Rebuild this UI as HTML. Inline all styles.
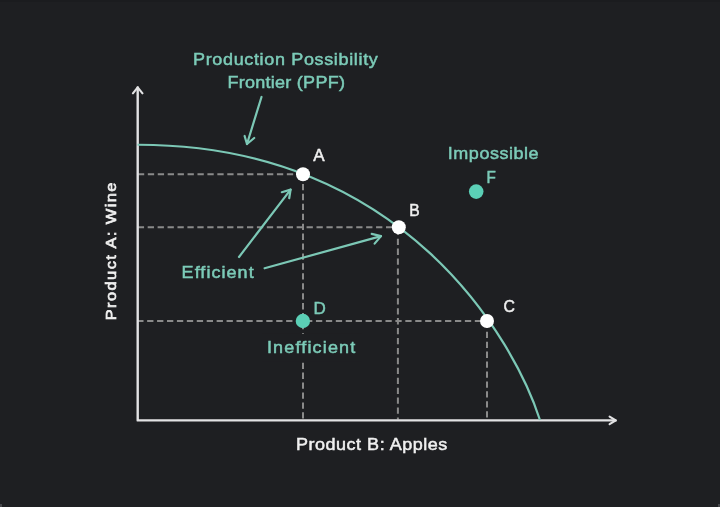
<!DOCTYPE html>
<html>
<head>
<meta charset="utf-8">
<style>
html,body{margin:0;padding:0;background:#1e1f22;}
body{width:720px;height:507px;overflow:hidden;}
svg{display:block;will-change:transform;}
text{font-family:"Liberation Sans",sans-serif;font-size:17px;}
.t{fill:#7ccbb8;stroke:#7ccbb8;stroke-width:.5px;}
.w{fill:#f0f0f0;stroke:#f0f0f0;stroke-width:.5px;}
</style>
</head>
<body>
<svg width="720" height="507" viewBox="0 0 720 507">
<rect width="720" height="507" fill="#1e1f22"/>
<rect width="720" height="2" fill="#1b1c1f"/>
<!-- dashed guide lines -->
<g stroke="#8a8a8a" stroke-width="2" stroke-dasharray="6.3 3.63" fill="none">
<path d="M137.9 174.3H303"/>
<path d="M137.75 227.35H398.8"/>
<path d="M137.2 321H487"/>
<path d="M303 174V419.5"/>
<path d="M397.9 228.75V419.5"/>
<path d="M487 321.8V419.5"/>
</g>
<rect x="262" y="333.8" width="100" height="27.7" fill="#1e1f22"/>
<!-- axes -->
<g stroke="#e2e2e4" stroke-width="2.4" fill="none" stroke-linecap="round" stroke-linejoin="round">
<path d="M137.7 87.5V420.4H615.5"/>
<path d="M132.9 93.3L137.7 87.3L142.5 93.3" stroke-width="2.1"/>
<path d="M609.6 416.6L615.8 420.4L609.6 424.2" stroke-width="2.1"/>
</g>
<!-- PPF curve -->
<path d="M137.5 144.76C405.61 144.39 514.96 342.38 539.95 420" stroke="#7cc8b6" stroke-width="2.2" fill="none"/>
<!-- teal arrows -->
<g stroke="#7cc8b6" stroke-width="2.2" fill="none" stroke-linecap="round" stroke-linejoin="round">
<path d="M261.5 97L247 144"/>
<path d="M244.6 136L247 144L254.2 138"/>
<path d="M239 257L290.6 189.6"/>
<path d="M281.8 192.2L290.6 189.6L289.2 198.2"/>
<path d="M264.6 268.3L381 236.1"/>
<path d="M371.7 233.9L381 236.1L374.6 243.6"/>
</g>
<!-- points -->
<circle cx="303" cy="174.3" r="7" fill="#ffffff"/>
<circle cx="398.8" cy="227.3" r="7" fill="#ffffff"/>
<circle cx="487" cy="321" r="7" fill="#ffffff"/>
<circle cx="302.9" cy="321" r="7.2" fill="#5bcfb6"/>
<circle cx="476.2" cy="191.6" r="7.3" fill="#5bcfb6"/>
<!-- labels -->
<text class="t" transform="translate(193.0 65.4) scale(1.06 1)" textLength="174.34" lengthAdjust="spacing">Production Possibility</text>
<text class="t" transform="translate(227.6 87.8) scale(1.06 1)" textLength="110.66" lengthAdjust="spacing">Frontier (PPF)</text>
<text class="t" transform="translate(447.8 159.1) scale(1.06 1)" textLength="85.66" lengthAdjust="spacing">Impossible</text>
<text class="t" transform="translate(181.6 277.5) scale(1.06 1)" textLength="68.02" lengthAdjust="spacing">Efficient</text>
<text class="t" transform="translate(266.9 353.0) scale(1.06 1)" textLength="83.40" lengthAdjust="spacing">Inefficient</text>
<text class="w" transform="translate(296.0 449.8) scale(1.06 1)" textLength="142.74" lengthAdjust="spacing">Product B: Apples</text>
<text class="w" transform="translate(116.4 320.3) rotate(-90) scale(1.1 1)" style="font-size:15px;stroke-width:.65px" textLength="125.3" lengthAdjust="spacing">Product A: Wine</text>
<text class="w" x="313.2" y="160.8">A</text>
<text class="w" transform="translate(409.3 216) scale(0.92 1)">B</text>
<text class="w" transform="translate(503.6 311.5) scale(0.93 1)">C</text>
<text class="t" x="313.4" y="313.5">D</text>
<text class="t" transform="translate(486.5 182.9) scale(0.9 1)">F</text>
<!-- corner specks -->
<rect x="0" y="504" width="2" height="3" fill="#45464a"/>
<rect x="718" y="504" width="2" height="3" fill="#45464a"/>
</svg>
</body>
</html>
